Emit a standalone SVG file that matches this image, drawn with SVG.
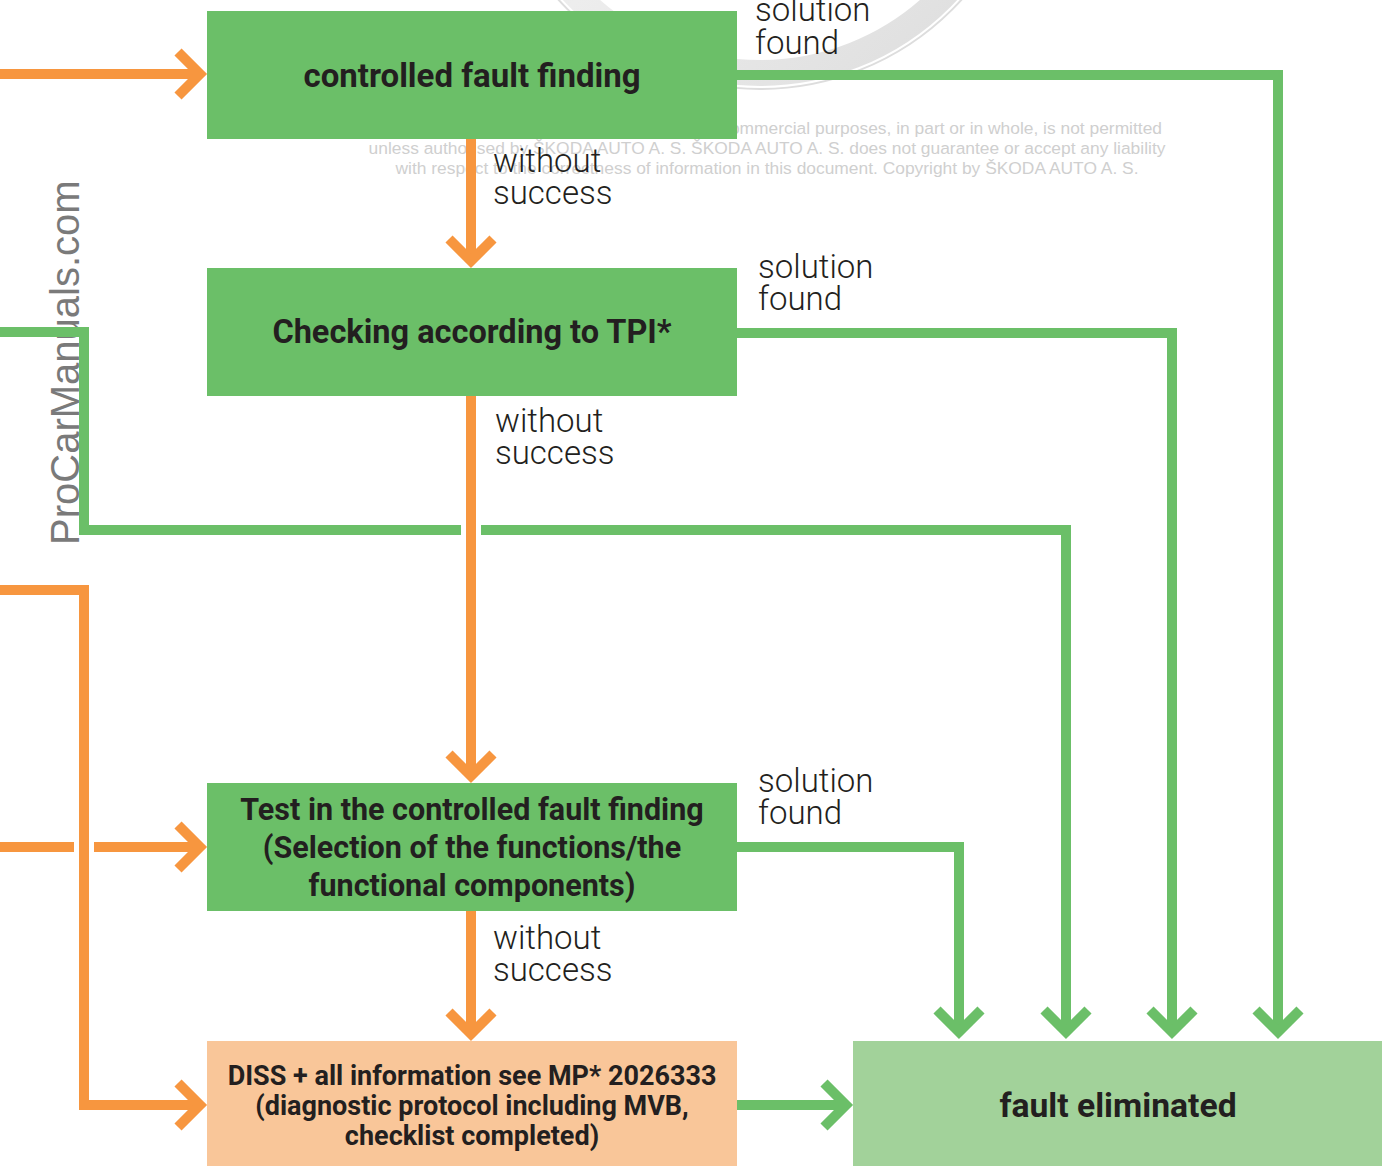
<svg xmlns="http://www.w3.org/2000/svg" width="1382" height="1166" viewBox="0 0 1382 1166">
<style>
.g{fill:none;stroke:#6BBF68;stroke-width:10;stroke-linejoin:miter}
.o{fill:none;stroke:#F7963F;stroke-width:10;stroke-linejoin:miter}
.gb{fill:#6BBF68}
.ob{fill:#F9C699}
.lb{fill:#A2D29A}
.bt{font-family:Roboto,"Liberation Sans",sans-serif;font-weight:700;fill:#231F20;text-anchor:middle}
.lt{font-family:Roboto,"Liberation Sans",sans-serif;font-weight:300;font-size:33px;fill:#231F20}
.cp{font-family:"Liberation Sans",Arial,sans-serif;font-size:17.4px;fill:#CFCFCF;text-anchor:middle}
</style>
<defs>
<marker id="ag" markerUnits="userSpaceOnUse" orient="auto" refX="0" refY="0" markerWidth="60" markerHeight="60" viewBox="-40 -30 60 60" overflow="visible">
<polyline points="-21,-22 1,0 -21,22" fill="none" stroke="#6BBF68" stroke-width="10" stroke-linejoin="miter"/>
</marker>
<marker id="ao" markerUnits="userSpaceOnUse" orient="auto" refX="0" refY="0" markerWidth="60" markerHeight="60" viewBox="-40 -30 60 60" overflow="visible">
<polyline points="-21,-22 1,0 -21,22" fill="none" stroke="#F7963F" stroke-width="10" stroke-linejoin="miter"/>
</marker>
<linearGradient id="ring" x1="0" y1="0" x2="1" y2="1">
<stop offset="0" stop-color="#D8D8D8"/>
<stop offset="0.5" stop-color="#EDEDED"/>
<stop offset="1" stop-color="#DCDCDC"/>
</linearGradient>
</defs>
<rect width="1382" height="1166" fill="#FFFFFF"/>
<g id="watermark">
<circle cx="760" cy="-183" r="256" fill="none" stroke="url(#ring)" stroke-width="26"/>
<circle cx="760" cy="-183" r="272" fill="none" stroke="#DDDDDD" stroke-width="2"/>
<text class="cp" x="1162" y="134" style="text-anchor:end">ommercial purposes, in part or in whole, is not permitted</text>
<text class="cp" x="767" y="154">unless authorised by ŠKODA AUTO A. S. ŠKODA AUTO A. S. does not guarantee or accept any liability</text>
<text class="cp" x="767" y="174">with respect to the correctness of information in this document. Copyright by ŠKODA AUTO A. S.</text>
<text x="79" y="545" transform="rotate(-90 79 545)" font-family="'Liberation Sans',Arial,sans-serif" font-size="40" fill="#7A7A7A">ProCarManuals.com</text>
</g>
<g id="connectors">
<line class="o" x1="0" y1="74" x2="199" y2="74" marker-end="url(#ao)"/>
<line class="o" x1="471" y1="139" x2="471" y2="260" marker-end="url(#ao)"/>
<line class="o" x1="471" y1="396" x2="471" y2="775" marker-end="url(#ao)"/>
<line class="o" x1="471" y1="911" x2="471" y2="1033" marker-end="url(#ao)"/>
<polyline class="o" points="0,590 84,590 84,1105 199,1105" marker-end="url(#ao)"/>
<line class="o" x1="0" y1="847" x2="74" y2="847"/>
<line class="o" x1="94" y1="847" x2="199" y2="847" marker-end="url(#ao)"/>
<polyline class="g" points="737,75 1278,75 1278,1031" marker-end="url(#ag)"/>
<polyline class="g" points="737,333 1172,333 1172,1031" marker-end="url(#ag)"/>
<polyline class="g" points="737,847 959,847 959,1031" marker-end="url(#ag)"/>
<polyline class="g" points="0,332 84,332 84,530 461,530"/>
<polyline class="g" points="481,530 1066,530 1066,1031" marker-end="url(#ag)"/>
<line class="g" x1="737" y1="1105" x2="845" y2="1105" marker-end="url(#ag)"/>
</g>
<g id="labels">
<text class="lt" x="755" y="21">solution</text>
<text class="lt" x="755" y="54">found</text>
<text class="lt" x="758" y="278">solution</text>
<text class="lt" x="758" y="310">found</text>
<text class="lt" x="758" y="792">solution</text>
<text class="lt" x="758" y="824">found</text>
<text class="lt" x="493" y="172">without</text>
<text class="lt" x="493" y="204">success</text>
<text class="lt" x="495" y="432">without</text>
<text class="lt" x="495" y="464">success</text>
<text class="lt" x="493" y="949">without</text>
<text class="lt" x="493" y="981">success</text>
</g>
<g id="n1">
<rect class="gb" x="207" y="11" width="530" height="128"/>
<text class="bt" x="472" y="87" font-size="33">controlled fault finding</text>
</g>
<g id="n2">
<rect class="gb" x="207" y="268" width="530" height="128"/>
<text class="bt" x="472" y="343" font-size="32.5">Checking according to TPI*</text>
</g>
<g id="n3">
<rect class="gb" x="207" y="783" width="530" height="128"/>
<text class="bt" x="472" y="820" font-size="30.5">Test in the controlled fault finding</text>
<text class="bt" x="472" y="858" font-size="30.5">(Selection of the functions/the</text>
<text class="bt" x="472" y="896" font-size="30.5">functional components)</text>
</g>
<g id="n4">
<rect class="ob" x="207" y="1041" width="530" height="125"/>
<text class="bt" x="472" y="1085" font-size="27">DISS + all information see MP* 2026333</text>
<text class="bt" x="472" y="1115" font-size="27">(diagnostic protocol including MVB,</text>
<text class="bt" x="472" y="1145" font-size="27">checklist completed)</text>
</g>
<g id="n5">
<rect class="lb" x="853" y="1041" width="529" height="125"/>
<text class="bt" x="1118" y="1117" font-size="33.7">fault eliminated</text>
</g>
</svg>
